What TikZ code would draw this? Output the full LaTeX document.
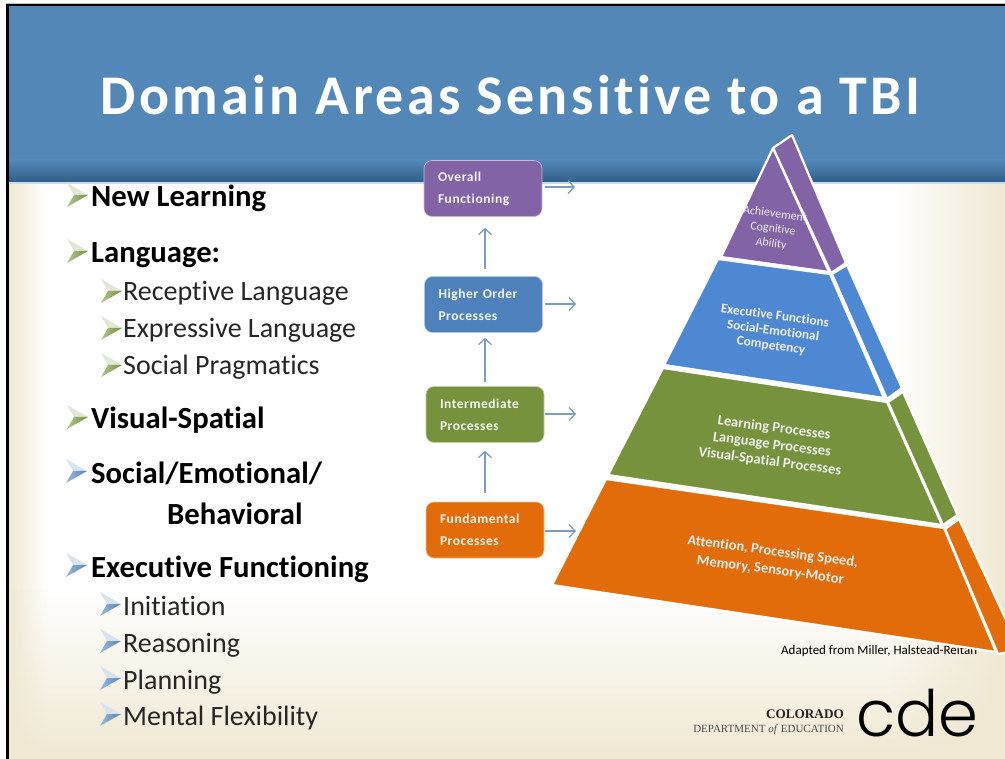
\documentclass[tikz,border=0pt]{standalone}
\usepackage{fontspec}
\setmainfont[Ligatures=NoCommon]{Carlito}
\newfontfamily\titlefont[LetterSpace=6,Ligatures=NoCommon]{Carlito}
\newfontfamily\boxfont[LetterSpace=4,Ligatures=NoCommon]{Carlito}
\newfontfamily\logofont[UprightFont=* Light]{Poppins}
\newfontfamily\logoserif{Liberation Serif}
\usetikzlibrary{arrows.meta,calc,fadings}
\definecolor{banner}{HTML}{5387B8}
\definecolor{bannerdk}{HTML}{2F5F88}
\definecolor{cream}{HTML}{EFE8D2}
\definecolor{cpurple}{HTML}{8263A6}
\definecolor{cblue}{HTML}{4F88D2}
\definecolor{cboxblue}{HTML}{4F81BD}
\definecolor{cgreen}{HTML}{76923C}
\definecolor{corange}{HTML}{E36C0A}
\definecolor{connc}{HTML}{7A9CC6}
\tikzset{
 stage/.style={rounded corners=8pt,minimum width=118pt,minimum height=56pt,draw=white!55!#1,line width=.6pt,fill=#1,text=white!93!#1,
   align=left,inner sep=0pt,font=\boxfont\bfseries\fontsize{13.5}{22}\selectfont,text width=90pt},
 conn/.style={draw=connc,line width=1.5pt,-{Straight Barb[length=6pt,width=13pt,line width=1.3pt]}},
 face/.style={fill=#1,draw=white,line width=2.2pt,line join=round},
 pyrtext/.style={text=white!93!black,rotate=-7.5,align=center},
 headitem/.style={anchor=base west,inner sep=0pt,font=\bfseries\fontsize{30.7}{32}\selectfont,text=black},
 subitem/.style={anchor=base west,inner sep=0pt,font=\fontsize{28}{30}\selectfont,text=black!85},
 pics/bullet/.style={code={
   \fill[#1!22!white] (-11,-12) -- (10,0) -- (-4,0) -- cycle;
   \shade[left color=#1!55!white,right color=#1] (-11,12) -- (10,0) -- (-4,0) -- cycle;
 }},
}
\begin{document}
\begin{tikzpicture}[x=1pt,y=-1pt]
\useasboundingbox (0,0) rectangle (1005,759);
% background
\fill[white] (0,0) rectangle (1005,759);
\shade[left color=cream,right color=white] (8,183) rectangle (48,759);
\shade[left color=white,right color=cream] (890,183) rectangle (1005,759);
\fill[cream,path fading=north] (8,590) rectangle (1005,759);
% banner
\fill[banner] (8,6) rectangle (1005,160);
\shade[top color=banner,bottom color=bannerdk] (8,160) rectangle (1005,182);
\fill[white!70!banner] (8,182) rectangle (1005,184);
% frame
\fill[black!25] (6,3) rectangle (1005,4);
\fill[black] (6,4) rectangle (1005,6.5);
\fill[black] (6,4) rectangle (9,759);
\node[anchor=base,inner sep=0pt,text=white,font=\titlefont\bfseries\fontsize{56}{58}\selectfont] (title) at (510.5,115) {Domain Areas Sensitive to a TBI};
% list
\node[headitem] (i1) at (91,207) {New Learning};
\node[headitem] (i2) at (91,263) {Language:};
\node[subitem] (i3) at (123,301) {Receptive Language};
\node[subitem] (i4) at (123,338) {Expressive Language};
\node[subitem] (i5) at (123,375) {Social Pragmatics};
\node[headitem] (i6) at (91,429) {Visual-Spatial};
\node[headitem] (i7) at (91,483) {Social/Emotional/};
\node[headitem] (i8) at (167,524) {Behavioral};
\node[headitem] (i9) at (91,577) {Executive Functioning};
\node[subitem] (i10) at (123,615) {Initiation};
\node[subitem] (i11) at (123,652) {Reasoning};
\node[subitem] (i12) at (123,689) {Planning};
\node[subitem] (i13) at (123,725) {Mental Flexibility};
\pic at (78,195) {bullet=cgreen};
\pic at (78,251) {bullet=cgreen};
\pic at (112,291) {bullet=cgreen};
\pic at (112,328) {bullet=cgreen};
\pic at (112,365) {bullet=cgreen};
\pic at (78,417) {bullet=cgreen};
\pic at (77,471) {bullet=cboxblue};
\pic at (77,565) {bullet=cboxblue};
\pic at (111,604) {bullet=cboxblue};
\pic at (111,641) {bullet=cboxblue};
\pic at (111,678) {bullet=cboxblue};
\pic at (111,714) {bullet=cboxblue};
% stage boxes
\node[stage=cpurple] (overall) at (483,188.5) {Overall\\Functioning};
\node[stage=cboxblue] (higher) at (483.5,304.5) {Higher Order\\Processes};
\node[stage=cgreen] (inter) at (485,414.5) {Intermediate\\Processes};
\node[stage=corange] (fund) at (485,530) {Fundamental\\Processes};
\coordinate (axis) at (485,0);
\draw[conn,shorten <=7pt,shorten >=11pt] (axis |- higher.north) -- (axis |- overall.south);
\draw[conn,shorten <=4pt,shorten >=5pt] (axis |- inter.north) -- (axis |- higher.south);
\draw[conn,shorten <=9pt,shorten >=8pt] (axis |- fund.north) -- (axis |- inter.south);
\coordinate (ra) at (575,187);
\coordinate (rb) at (576,304);
\coordinate (rc) at (576,414);
\coordinate (rd) at (576,531);
\draw[conn,shorten <=3pt] (overall.east |- ra) -- (ra);
\draw[conn,shorten <=2pt] (higher.east |- rb) -- (rb);
\draw[conn,shorten <=1pt] (inter.east |- rc) -- (rc);
\draw[conn,shorten <=1pt] (fund.east |- rd) -- (rd);
% credit, partly hidden by the pyramid
\node[anchor=base west,inner sep=0pt,font=\fontsize{13}{14}\selectfont] (adapt) at (781,654) {Adapted from Miller, Halstead-Reitan};
% pyramid
\begin{scope}
\clip (0,0) rectangle (1005,759);
\path[face=cpurple] (773,148) -- (792,135) -- (846,263) -- (831,273) -- cycle;
\path[face=cpurple] (773,148) -- (721,257) -- (829,272) -- cycle;
\path[face=cblue] (847,265) -- (902,388) -- (887,399) -- (832,274) -- cycle;
\path[face=cblue] (718,259) -- (830,274) -- (884,398) -- (664,365) -- cycle;
\path[face=cgreen] (903,392) -- (957.5,515) -- (943,525) -- (888,402) -- cycle;
\path[face=cgreen] (663,368) -- (887,402) -- (942,525) -- (608,475) -- cycle;
\path[face=corange] (959,519) -- (1020,650) -- (998,654) -- (945,529) -- cycle;
\path[face=corange] (606,479) -- (944,528) -- (996,652) -- (552,585) -- cycle;
\end{scope}
\node[pyrtext,font=\fontsize{12}{15}\selectfont] (t1) at (773,229) {Achievement\\Cognitive\\Ability};
\node[pyrtext,font=\bfseries\fontsize{13.3}{15}\selectfont] (t2) at (773,331) {Executive Functions\\Social-Emotional\\Competency};
\node[pyrtext,font=\bfseries\fontsize{14.5}{17}\selectfont] (t3) at (772,445) {Learning Processes\\Language Processes\\Visual-Spatial Processes};
\node[pyrtext,font=\bfseries\fontsize{14.5}{18.5}\selectfont] (t4) at (771.5,561) {Attention, Processing Speed,\\Memory, Sensory-Motor};
% logo
\node[anchor=base east,inner sep=0pt,text=black!85,font=\logoserif\bfseries\fontsize{13.2}{14}\selectfont] (logoa) at (844,718) {COLORADO};
\node[anchor=base east,inner sep=0pt,text=black!70,font=\logoserif\fontsize{11}{12}\selectfont] (logob) at (844,732) {DEPARTMENT \textit{of} EDUCATION};
\node[anchor=base west,inner sep=0pt,text=black,font=\logofont\fontsize{64}{64}\selectfont] (logoc) at (856,736) {cde};
\end{tikzpicture}
\end{document}
